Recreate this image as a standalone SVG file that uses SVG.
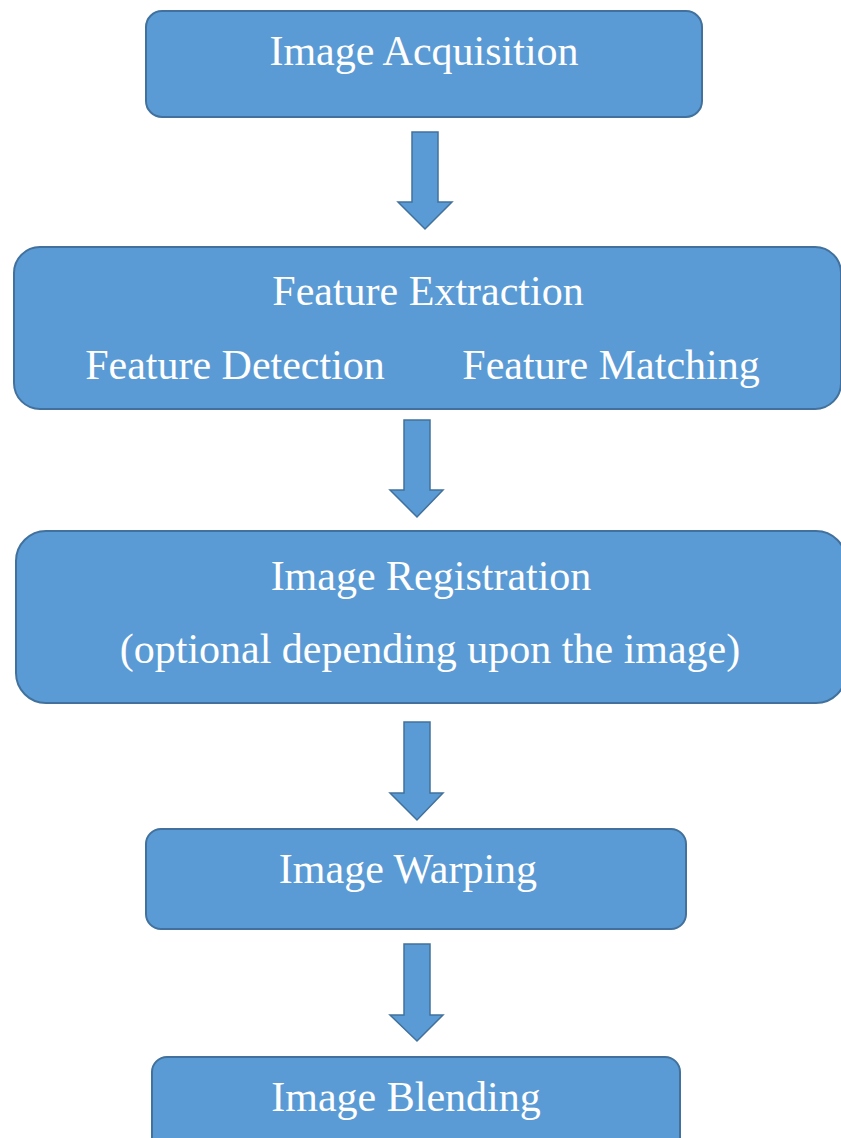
<svg xmlns="http://www.w3.org/2000/svg" width="841" height="1138" viewBox="0 0 841 1138">
<style>
.box{fill:#5B9BD5;stroke:#41719C;stroke-width:2}
.arr{fill:#5B9BD5;stroke:#41719C;stroke-width:1.5;stroke-linejoin:miter}
.t{font-family:"Liberation Serif","Times New Roman",serif;font-size:42px;fill:#FFFFFF;text-anchor:middle}
</style>
<rect width="841" height="1138" fill="#FFFFFF"/>
<g id="node-acquisition">
<rect class="box" x="146" y="11" width="556" height="106" rx="16"/>
<text class="t" x="424" y="65">Image Acquisition</text>
</g>
<g id="node-extraction">
<rect class="box" x="14" y="247" width="827" height="162" rx="26"/>
<text class="t" x="428" y="305">Feature Extraction</text>
<text class="t" x="235" y="379">Feature Detection</text>
<text class="t" x="611" y="379">Feature Matching</text>
</g>
<g id="node-registration">
<rect class="box" x="16" y="531" width="830" height="172" rx="30"/>
<text class="t" x="431" y="590">Image Registration</text>
<text class="t" x="430" y="663">(optional depending upon the image)</text>
</g>
<g id="node-warping">
<rect class="box" x="146" y="829" width="540" height="100" rx="15"/>
<text class="t" x="408" y="883">Image Warping</text>
</g>
<g id="node-blending">
<rect class="box" x="152" y="1057" width="528" height="100" rx="15"/>
<text class="t" x="406" y="1111">Image Blending</text>
</g>
<g id="connectors">
<path class="arr" d="M412 132 H438 V202 H452 L425 229 L398 202 H412 Z"/>
<path class="arr" d="M404 420 H430 V490 H443 L417 517 L390 490 H404 Z"/>
<path class="arr" d="M404 722 H430 V793 H443 L417 820 L390 793 H404 Z"/>
<path class="arr" d="M404 944 H430 V1015 H443 L417 1041 L390 1015 H404 Z"/>
</g>
</svg>
